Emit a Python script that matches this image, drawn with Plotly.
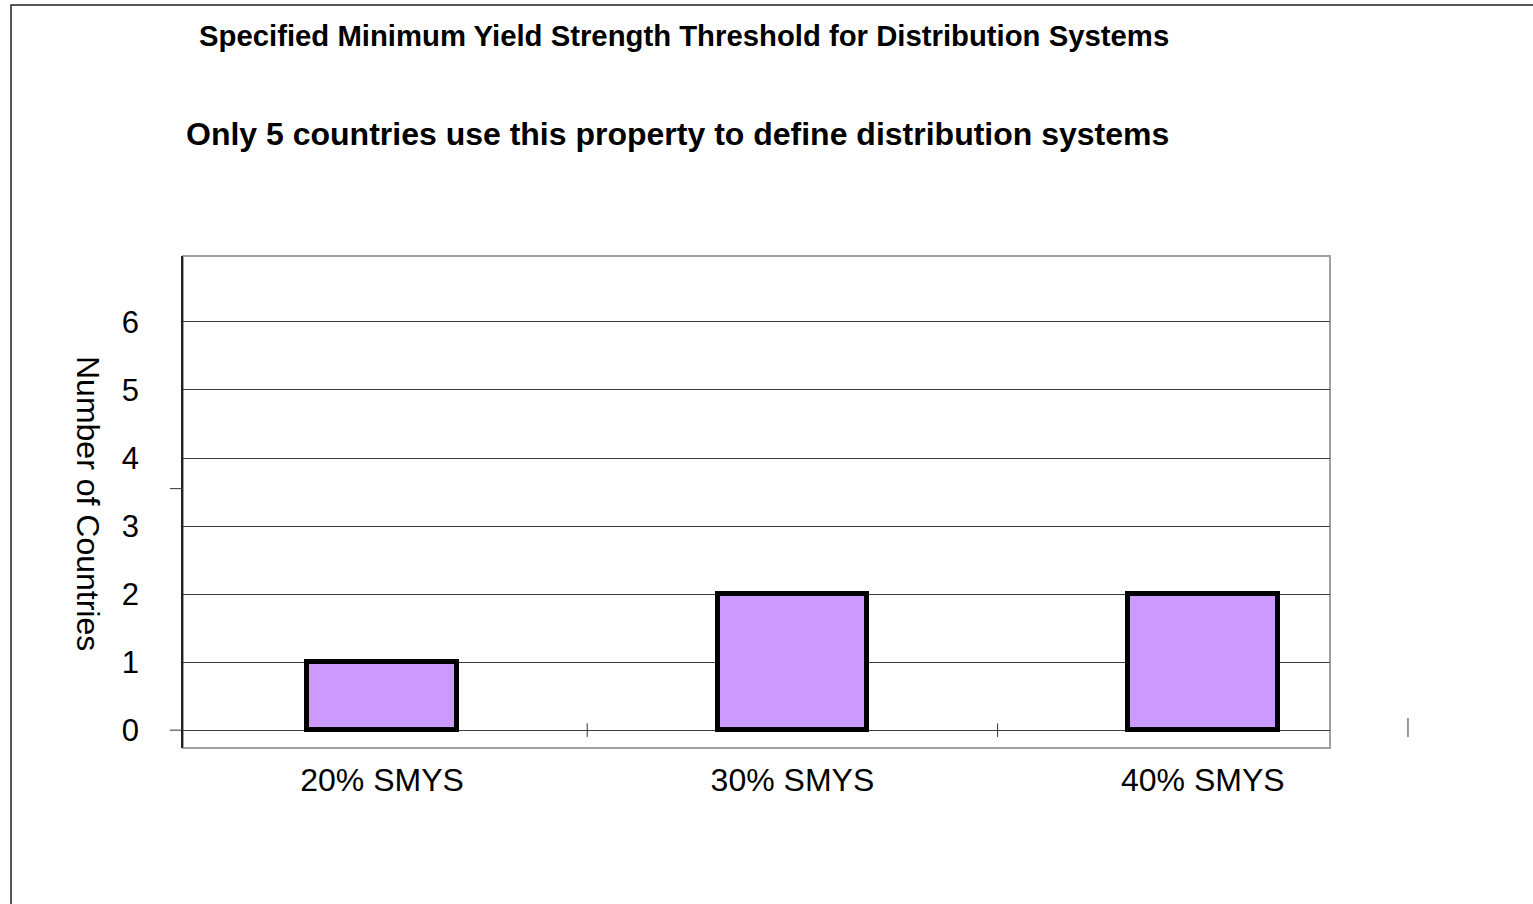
import plotly.graph_objects as go

# Chart data
categories = ["20% SMYS", "30% SMYS", "40% SMYS"]
countries = [1, 2, 2]
y_ticks = [0, 1, 2, 3, 4, 5, 6]

title_main = "Specified Minimum Yield Strength Threshold for Distribution Systems"
title_sub = "Only 5 countries use this property to define distribution systems"
y_title = "Number of Countries"

FONT = "Arial, Liberation Sans, sans-serif"
W, H = 1533, 904
M_L, M_R, M_T, M_B = 183, 203, 256, 156
PW, PH = W - M_L - M_R, H - M_T - M_B
X_RANGE = [-0.485, 2.31]
Y_RANGE = [-0.262, 6.969]


def px_x(p):
    """pixel column -> paper x"""
    return (p - M_L) / PW


def px_y(p):
    """pixel row -> paper y"""
    return (H - M_B - p) / PH


def cat_paper(v):
    """category-axis value -> paper x"""
    return (v - X_RANGE[0]) / (X_RANGE[1] - X_RANGE[0])


fig = go.Figure()
fig.add_trace(go.Bar(
    x=list(range(len(categories))),
    y=countries,
    width=0.365,
    marker=dict(color="#CC99FF", line=dict(color="#000000", width=5)),
    showlegend=False,
    hoverinfo="skip",
))

shapes = []
# plot area border
shapes.append(dict(type="rect", xref="paper", yref="paper", x0=0, x1=1, y0=0, y1=1,
                   line=dict(color="#a0a0a0", width=2), layer="below"))
# outer frame
shapes.append(dict(type="rect", xref="paper", yref="paper",
                   x0=px_x(11), x1=px_x(1700), y0=px_y(1100), y1=px_y(5),
                   line=dict(color="#222222", width=1.5), layer="below"))
# category boundary tick marks
for b in [0.5, 1.5, 2.5]:
    shapes.append(dict(type="line", xref="paper", yref="y",
                       x0=cat_paper(b), x1=cat_paper(b), y0=-0.1, y1=0.1 if b < 2 else 0.18,
                       line=dict(color="#333333", width=1)))
# left-side tick marks
for v in [0, 3.55]:
    shapes.append(dict(type="line", xref="paper", yref="y",
                       x0=px_x(170), x1=0, y0=v, y1=v,
                       line=dict(color="#333333", width=1)))

annotations = [
    dict(text=f"<b>{title_main}</b>", xref="paper", yref="paper",
         x=px_x(683.5), y=px_y(36), xanchor="center", yanchor="middle",
         showarrow=False, font=dict(family=FONT, size=29.3, color="#000000")),
    dict(text=f"<b>{title_sub}</b>", xref="paper", yref="paper",
         x=px_x(677.5), y=px_y(134), xanchor="center", yanchor="middle",
         showarrow=False, font=dict(family=FONT, size=32, color="#000000")),
    dict(text=y_title, xref="paper", yref="paper", textangle=90,
         x=px_x(88), y=px_y(503), xanchor="center", yanchor="middle",
         showarrow=False, font=dict(family=FONT, size=32, color="#000000")),
]

fig.update_layout(
    width=W, height=H,
    margin=dict(l=M_L, r=M_R, t=M_T, b=M_B, pad=0),
    paper_bgcolor="#ffffff", plot_bgcolor="#ffffff",
    font=dict(family=FONT, size=32, color="#000000"),
    bargap=0,
    shapes=shapes,
    annotations=annotations,
    xaxis=dict(
        range=X_RANGE,
        tickmode="array",
        tickvals=list(range(len(categories))),
        ticktext=categories,
        showgrid=False, zeroline=False, showline=False,
        ticks="", ticklabelstandoff=10,
        tickfont=dict(family=FONT, size=32, color="#000000"),
    ),
    yaxis=dict(
        range=Y_RANGE,
        tickmode="array",
        tickvals=y_ticks,
        showgrid=True, gridcolor="#3a3a3a", gridwidth=1,
        zeroline=False,
        showline=True, linecolor="#222222", linewidth=1.5,
        ticks="", ticklabelstandoff=36,
        tickfont=dict(family=FONT, size=31, color="#000000"),
    ),
)

fig.write_html("out.html")
